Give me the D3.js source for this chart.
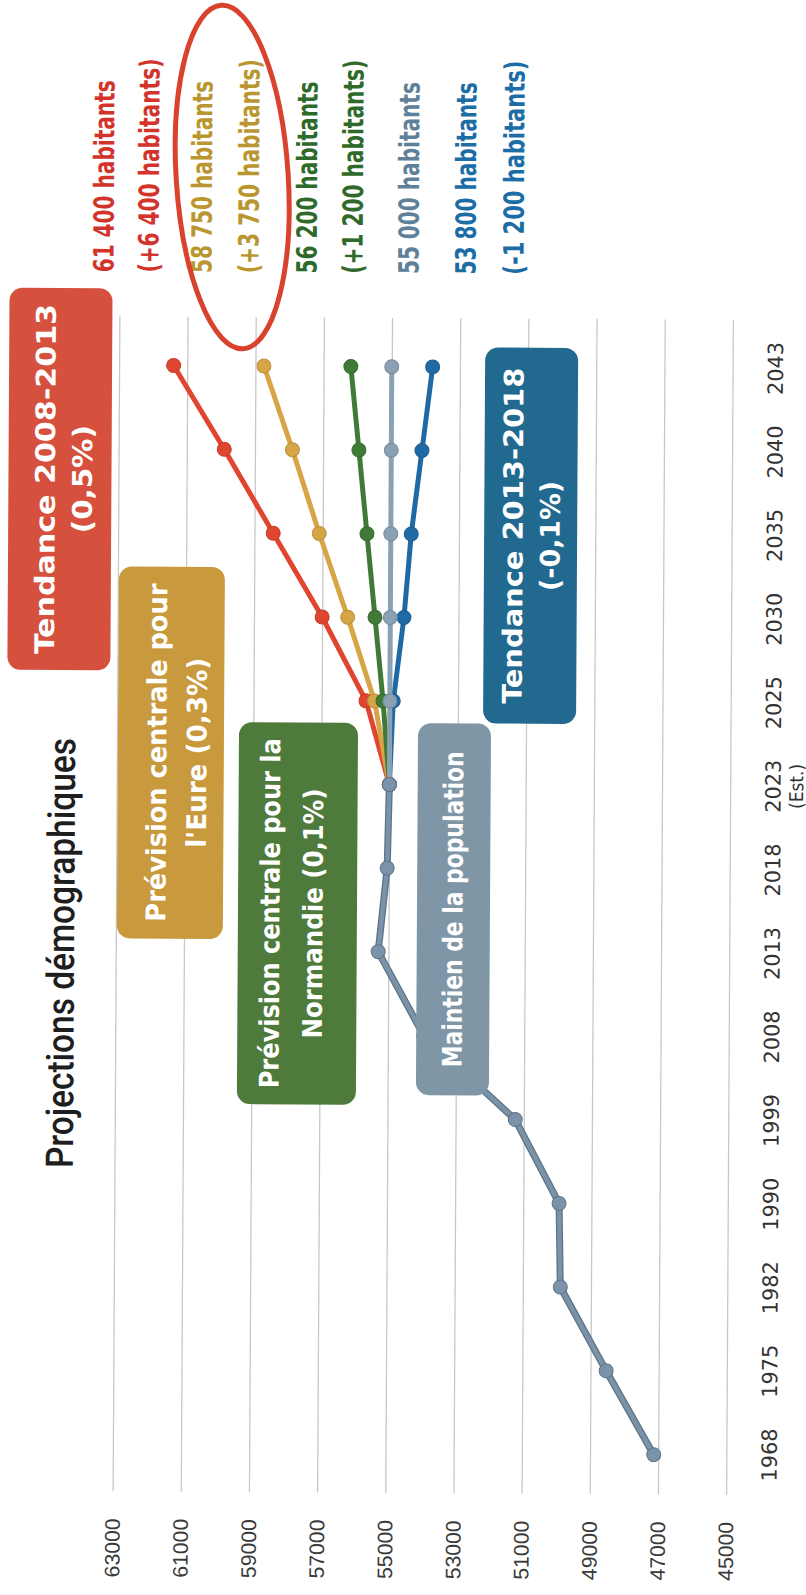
<!DOCTYPE html>
<html><head><meta charset="utf-8">
<script src="https://cdn.jsdelivr.net/npm/d3@7"></script>
<style>body{margin:0;background:#fff}</style>
</head><body>
<svg id="chart" width="806" height="1595"></svg>
<script>
// ---------- data ----------
const years = ["1968","1975","1982","1990","1999","2008","2013","2018","2023","2025","2030","2035","2040","2043"];
const histYears = ["1968","1975","1982","1990","1999","2008","2013","2018","2023"];
const histValues = [47130, 48540, 49900, 49950, 51250, 53950, 55300, 55050, 55000];
const projYears = ["2023","2025","2030","2035","2040","2043"];
const tendance0813 = [55000, 55700, 57000, 58450, 59900, 61400];
const prevEure = [55000, 55450, 56250, 57100, 57900, 58750];
const prevNormandie = [55000, 55200, 55450, 55700, 55950, 56200];
const tendance1318 = [55000, 54900, 54600, 54400, 54100, 53800];
const maintien = [55000, 55000, 55000, 55000, 55000, 55000];
const yTicks = [45000, 47000, 49000, 51000, 53000, 55000, 57000, 59000, 61000, 63000];
const title = "Projections démographiques";
const endLabels = [
  ["61 400 habitants", "(+6 400 habitants)"],
  ["58 750 habitants", "(+3 750 habitants)"],
  ["56 200 habitants", "(+1 200 habitants)"],
  ["55 000 habitants"],
  ["53 800 habitants", "(-1 200 habitants)"]
];
const boxLabels = [
  ["Tendance 2008-2013", "(0,5%)"],
  ["Prévision centrale pour", "l'Eure (0,3%)"],
  ["Prévision centrale pour la", "Normandie (0,1%)"],
  ["Maintien de la population"],
  ["Tendance 2013-2018", "(-0,1%)"]
];

// ---------- layout / style ----------
const H = 1595;
const COND = "'DejaVu Sans Condensed','Liberation Sans Narrow','Roboto Condensed',Roboto,'DejaVu Sans',sans-serif";
const seriesStyle = [
  {values: tendance0813, color: "#e0462f"},
  {values: prevEure, color: "#d6a545"},
  {values: prevNormandie, color: "#3f7b36"},
  {values: tendance1318, color: "#1f6aa5"},
  {values: maintien, color: "#8aa0b3"}
];

const svg = d3.select("#chart");
const root = svg.append("g").attr("transform", "rotate(0.33,403,905)");
// landscape frame, rotated so that the time axis runs bottom -> top
const land = root.append("g").attr("transform", `translate(0,${H}) rotate(-90)`);

const x = d3.scalePoint().domain(years).range([100, 1270]).padding(0.5);
const y = d3.scaleLinear().domain([45000, 63000]).range([729.5, 116]);

// gridlines + value axis
land.append("g").attr("transform", "translate(102,0)")
  .call(d3.axisLeft(y).tickValues(yTicks).tickSize(-(1277 - 102)).tickPadding(27).tickFormat(d3.format("d")))
  .call(g => g.select(".domain").remove())
  .call(g => g.selectAll(".tick line").attr("stroke", "#c8c8c8").attr("stroke-width", 1.3))
  .call(g => g.selectAll(".tick text").attr("font-family", "'Liberation Sans',Arial,sans-serif")
      .attr("font-size", 21).attr("fill", "#3a3a3a")
      .attr("textLength", 59).attr("lengthAdjust", "spacingAndGlyphs"));

// year axis
const xg = land.append("g").attr("transform", "translate(0,765)")
  .call(d3.axisBottom(x).tickSize(0).tickPadding(0))
  .call(g => g.select(".domain").remove());
xg.selectAll(".tick text").attr("font-family", COND).attr("font-size", 21).attr("fill", "#333")
  .attr("textLength", 53).attr("lengthAdjust", "spacingAndGlyphs");
xg.selectAll(".tick").filter(d => d === "2023").append("text")
  .attr("y", 24).attr("dy", "0.71em").attr("fill", "#333").attr("font-family", COND)
  .attr("font-size", 19).attr("text-anchor", "middle").text("(Est.)");

const line = d3.line().x(d => x(d.year)).y(d => y(d.value));

function drawSeries(ys, vals, color, outline) {
  const pts = ys.map((yr, i) => ({year: yr, value: vals[i]}));
  const g = land.append("g");
  if (outline) {
    g.append("path").datum(pts).attr("d", line).attr("fill", "none")
      .attr("stroke", outline).attr("stroke-width", 7).attr("stroke-linejoin", "round");
  }
  g.append("path").datum(pts).attr("d", line).attr("fill", "none")
    .attr("stroke", color).attr("stroke-width", outline ? 4.5 : 5).attr("stroke-linejoin", "round");
  g.selectAll("circle").data(pts).join("circle")
    .attr("cx", d => x(d.year)).attr("cy", d => y(d.value)).attr("r", 7)
    .attr("fill", color).attr("stroke", outline || d3.color(color).darker(0.4)).attr("stroke-width", 1);
}
seriesStyle.forEach(s => drawSeries(projYears, s.values, s.color));
drawSeries(histYears, histValues, "#7a93a8", "#5d7385");

// ---------- annotations (page coordinates) ----------
const ann = root.append("g");
function vtext(g, o) {
  const t = g.append("text")
    .attr("transform", `translate(${o.x},${o.y}) rotate(-90)`)
    .attr("text-anchor", o.anchor || "middle").attr("dy", "0.35em")
    .attr("font-family", o.family || COND).attr("font-weight", o.weight || "bold")
    .attr("font-size", o.size).attr("fill", o.fill).text(o.text);
  if (o.len) t.attr("textLength", o.len).attr("lengthAdjust", "spacingAndGlyphs");
  return t;
}

// title
vtext(ann, {x: 61, y: 955, text: title, size: 38, fill: "#1e1e1e", len: 430, weight: 500,
  family: "Roboto,'DejaVu Sans Condensed',sans-serif"});

// coloured boxes
const boxes = [
  {x0: 6, y0: 290, x1: 109, y1: 672, fill: "#d5513e", lines: [43, 80], lens: [350, 108]},
  {x0: 117, y0: 568, x1: 223, y1: 940, fill: "#c99a3d", lines: [156, 196], lens: [338, 190]},
  {x0: 238, y0: 723, x1: 357, y1: 1105, fill: "#4e7a3b", lines: [270, 313], lens: [350, 250]},
  {x0: 417, y0: 723, x1: 490, y1: 1095, fill: "#7f96a6", lines: [453], lens: [316]},
  {x0: 482, y0: 347, x1: 575, y1: 723, fill: "#21698f", lines: [511, 548], lens: [336, 110]}
];
boxes.forEach((b, i) => {
  ann.append("rect").attr("x", b.x0).attr("y", b.y0).attr("width", b.x1 - b.x0)
    .attr("height", b.y1 - b.y0).attr("rx", 13).attr("fill", b.fill);
  const cy = (b.y0 + b.y1) / 2;
  boxLabels[i].forEach((txt, j) => {
    vtext(ann, {x: b.lines[j], y: cy, text: txt, size: 27, fill: "#ffffff", len: b.lens[j], weight: "bold"});
  });
});

// end-of-projection labels
const endColors = ["#d2342b", "#b9962f", "#2f6a2b", "#5e8098", "#1c6da6"];
const endCols = [[100, 145], [198, 245], [303, 349], [405], [462, 510]];
endLabels.forEach((pair, i) => {
  pair.forEach((txt, j) => {
    vtext(ann, {x: endCols[i][j], y: 274, anchor: "start", text: txt, size: 28,
      fill: endColors[i], len: txt.startsWith("(") ? 214 : 192, weight: "bold"});
  });
});

// hand-drawn highlight ellipse
ann.append("ellipse").attr("cx", 228).attr("cy", 178).attr("rx", 56).attr("ry", 172)
  .attr("transform", "rotate(-4,228,178)")
  .attr("fill", "none").attr("stroke", "#d9432e").attr("stroke-width", 5);
</script>
</body></html>
